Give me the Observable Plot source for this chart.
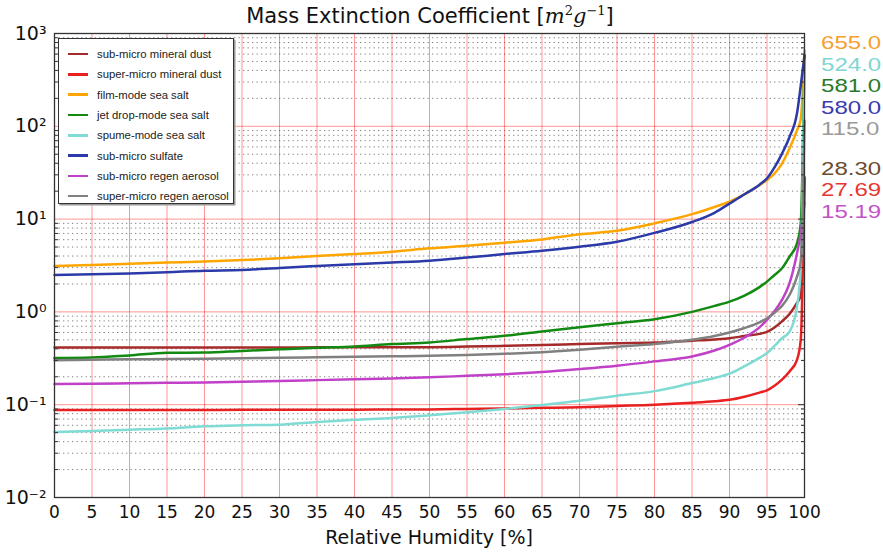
<!DOCTYPE html>
<html><head><meta charset="utf-8">
<script src="https://cdn.jsdelivr.net/npm/d3@7"></script>
<script src="https://cdn.jsdelivr.net/npm/@observablehq/plot@0.6"></script>
<style>
body{margin:0;background:#fff;overflow:hidden;}
#wrap{position:relative;width:883px;height:553px;overflow:hidden;font-family:"DejaVu Sans",sans-serif;}
#title{position:absolute;top:3px;left:0;width:860px;text-align:center;font-size:21px;color:#111;white-space:nowrap;}
#title .m{font-family:"DejaVu Serif",serif;font-style:italic;}
#title sup{font-size:13px;font-family:"DejaVu Serif",serif;}
#xlabel{position:absolute;top:526px;left:54px;width:750px;text-align:center;font-size:19px;color:#111;}
#legend{position:absolute;left:58px;top:38px;width:176px;height:166px;border:1.5px solid #333;background:#fff;box-shadow:1.5px 1.5px 0 #999;box-sizing:border-box;padding-top:5px;font-family:"Liberation Sans",Arial,sans-serif;font-size:11.3px;color:#222;white-space:nowrap;}
#legend .row{height:20.3px;display:flex;align-items:center;}
#legend .sw{width:20px;height:2.5px;margin-left:9px;margin-right:9px;flex:none;}
#ends{position:absolute;left:821px;top:32px;font-family:"Liberation Sans",Arial,sans-serif;font-size:18.5px;white-space:nowrap;transform:scaleX(1.3);transform-origin:0 0;}
#ends div{height:21.5px;line-height:21.5px;}
#ends .gap{margin-top:18px;}
</style></head>
<body>
<div id="wrap">
  <div id="chart"></div>
  <div id="title">Mass Extinction Coefficient [<span class="m">m</span><sup>2</sup><span class="m">g</span><sup>−1</sup>]</div>
  <div id="xlabel">Relative Humidity [%]</div>
  <div id="legend"></div>
  <div id="ends"></div>
</div>
<script>
// Relative humidity grid (%)
const rh = [0,5,10,15,20,25,30,35,40,45,50,55,60,65,70,75,80,85,88,90,92,94,95,96,97,98,99,99.5,100];

// Mass extinction coefficient (m^2/g) per aerosol type
const subMicroDust   = [0.413,0.413,0.413,0.413,0.414,0.414,0.414,0.415,0.415,0.416,0.417,0.423,0.431,0.44,0.45,0.46,0.468,0.49,0.505,0.52,0.55,0.58,0.61,0.68,0.79,0.95,1.25,1.5,28.3];
const superMicroDust = [0.0877,0.0877,0.0878,0.0878,0.0879,0.088,0.088,0.0882,0.0884,0.0887,0.089,0.09,0.091,0.0925,0.094,0.097,0.1,0.105,0.109,0.113,0.122,0.135,0.143,0.16,0.186,0.228,0.305,0.5,27.69];
const filmSeaSalt    = [3.12,3.2,3.3,3.4,3.5,3.62,3.78,4.0,4.2,4.45,4.84,5.16,5.56,6.04,6.85,7.48,9.0,11.3,13.5,15.4,18.5,23.2,26.3,31,39.7,57.5,90.6,120,655];
const jetSeaSalt     = [0.318,0.322,0.34,0.362,0.365,0.38,0.395,0.41,0.424,0.45,0.468,0.509,0.552,0.614,0.685,0.756,0.834,1.0,1.16,1.29,1.5,1.85,2.12,2.5,2.95,3.93,5.48,9,581];
const spumeSeaSalt   = [0.0508,0.0522,0.0538,0.0555,0.0585,0.06,0.0609,0.065,0.0689,0.072,0.077,0.083,0.09,0.099,0.11,0.125,0.14,0.171,0.194,0.216,0.26,0.32,0.36,0.43,0.52,0.61,1.14,3,524];
const sulfate        = [2.5,2.55,2.6,2.68,2.78,2.83,2.98,3.12,3.26,3.4,3.56,3.85,4.2,4.56,5.04,5.7,7.1,9.3,11.7,14.7,18.5,23.5,27.5,36,50.8,76.7,138,274,580];
const subMicroRegen  = [0.167,0.168,0.17,0.172,0.174,0.177,0.18,0.184,0.188,0.192,0.197,0.205,0.213,0.225,0.242,0.263,0.293,0.331,0.384,0.442,0.53,0.68,0.82,1.02,1.35,2.03,4.27,7,15.19];
const superMicroRegen= [0.302,0.305,0.308,0.31,0.313,0.317,0.32,0.324,0.328,0.332,0.336,0.343,0.353,0.368,0.39,0.42,0.45,0.5,0.55,0.6,0.67,0.77,0.855,0.98,1.16,1.52,2.4,3.5,115];

const seriesNames  = ["sub-micro mineral dust","super-micro mineral dust","film-mode sea salt","jet drop-mode sea salt","spume-mode sea salt","sub-micro sulfate","sub-micro regen aerosol","super-micro regen aerosol"];
const seriesColors = ["#a52a2a","#e82020","#ffa500","#128a12","#7fdbd4","#2b3aa8","#c040c8","#808080"];
const seriesValues = [subMicroDust,superMicroDust,filmSeaSalt,jetSeaSalt,spumeSeaSalt,sulfate,subMicroRegen,superMicroRegen];

// Values printed on the right, top to bottom
const endTexts  = ["655.0","524.0","581.0","580.0","115.0","28.30","27.69","15.19"];
const endColors = ["#f7a030","#7fd6d0","#2a7a2a","#3b3bb0","#9a9a9a","#6b4c2f","#e8362e","#c354c8"];

const xTicks = [0,5,10,15,20,25,30,35,40,45,50,55,60,65,70,75,80,85,90,95,100];
const yTicks = [0.01,0.1,1,10,100,1000];
const yTickLabels = ["10⁻²","10⁻¹","10⁰","10¹","10²","10³"];

const rows = seriesNames.flatMap((name,i) => rh.map((x,j) => ({name, x, y: seriesValues[i][j]})));
const minorY = yTicks.slice(0,-1).flatMap(d => [2,3,4,5,6,7,8,9].map(k => k*d));

const chart = Plot.plot({
  width: 883, height: 553,
  marginTop: 33, marginLeft: 54, marginRight: 79, marginBottom: 56,
  style: {fontFamily: "DejaVu Sans, sans-serif", color: "#111", background: "#fff"},
  x: {domain: [0,100]},
  y: {type: "log", domain: [0.01,1000]},
  color: {domain: seriesNames, range: seriesColors},
  marks: [
    Plot.ruleY(minorY, {stroke: "#808080", strokeDasharray: "1.3,3.2", strokeWidth: 1}),
    Plot.ruleX(xTicks, {stroke: "#ff0000", strokeOpacity: 0.42, strokeWidth: 1}),
    Plot.ruleY(yTicks, {stroke: "#ff0000", strokeOpacity: 0.42, strokeWidth: 1}),
    Plot.line(rows, {x: "x", y: "y", z: "name", stroke: "name", strokeWidth: 2.5, curve: "monotone-x"}),
    Plot.axisX({ticks: xTicks, tickSize: 0, tickPadding: 8, fontSize: 17, label: null}),
    Plot.axisY({ticks: yTicks, tickSize: 0, tickPadding: 8, fontSize: 19,
      tickFormat: d => yTickLabels[yTicks.indexOf(d)], label: null}),
    Plot.axisY({anchor: "left", ticks: minorY, tickSize: -4, tickFormat: () => "", label: null, stroke: "#333"}),
    Plot.axisY({anchor: "right", ticks: minorY, tickSize: -4, tickFormat: () => "", label: null, stroke: "#333"}),
    Plot.axisY({anchor: "right", ticks: yTicks, tickSize: -7, tickFormat: () => "", label: null, stroke: "#333"}),
    Plot.frame({stroke: "#333", strokeWidth: 1.3})
  ]
});
document.getElementById("chart").appendChild(chart);

const legend = document.getElementById("legend");
seriesNames.forEach((n,i) => {
  const r = document.createElement("div"); r.className = "row";
  const s = document.createElement("div"); s.className = "sw"; s.style.background = seriesColors[i];
  const t = document.createElement("span"); t.textContent = n;
  r.appendChild(s); r.appendChild(t); legend.appendChild(r);
});

const ends = document.getElementById("ends");
endTexts.forEach((t,i) => {
  const d = document.createElement("div"); d.textContent = t; d.style.color = endColors[i];
  if (i === 5) d.className = "gap";
  ends.appendChild(d);
});
</script>
</body></html>
